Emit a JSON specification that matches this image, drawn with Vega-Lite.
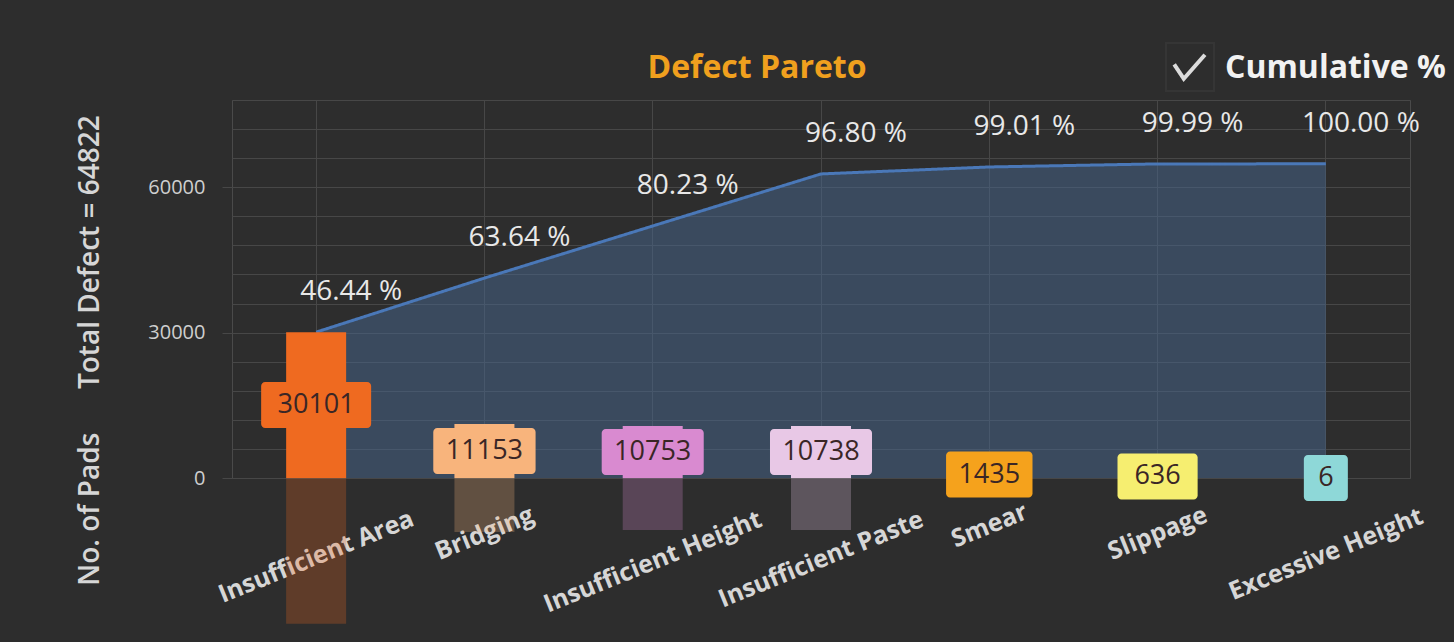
{
  "$schema": "https://vega.github.io/schema/vega-lite/v6.json",
  "width": 1178,
  "height": 378,
  "autosize": {"type": "none"},
  "padding": {"left": 232, "top": 100, "right": 44, "bottom": 164},
  "background": "#2d2d2d",
  "title": {
    "text": "Defect Pareto",
    "color": "#f0a01e",
    "font": "Open Sans",
    "fontSize": 32,
    "fontWeight": "bold",
    "anchor": "middle",
    "frame": "group",
    "dx": -64,
    "dy": 59,
    "offset": 16
  },
  "data": {
    "values": [
      {"defect": "Insufficient Area", "count": 30101, "cum": 30101, "pct": "46.44 %"},
      {"defect": "Bridging", "count": 11153, "cum": 41254, "pct": "63.64 %"},
      {"defect": "Insufficient Height", "count": 10753, "cum": 52007, "pct": "80.23 %"},
      {"defect": "Insufficient Paste", "count": 10738, "cum": 62745, "pct": "96.80 %"},
      {"defect": "Smear", "count": 1435, "cum": 64180, "pct": "99.01 %"},
      {"defect": "Slippage", "count": 636, "cum": 64816, "pct": "99.99 %"},
      {"defect": "Excessive Height", "count": 6, "cum": 64822, "pct": "100.00 %"}
    ]
  },
  "encoding": {
    "x": {
      "field": "defect",
      "type": "nominal",
      "sort": null,
      "scale": {"paddingInner": 0, "paddingOuter": 0},
      "axis": {
        "title": null,
        "labelAngle": -22,
        "labelAlign": "center",
        "labelBaseline": "middle",
        "labelPadding": {"expr": "34 + 2.6*length(datum.label)"},
        "labelFont": "Open Sans",
        "labelFontSize": 25,
        "labelFontWeight": "bold",
        "labelColor": "#d6d6d6",
        "labelLimit": 400,
        "labelOverlap": false,
        "ticks": false,
        "domain": false,
        "grid": true,
        "gridColor": "#474747",
        "bandPosition": 0.5
      }
    }
  },
  "layer": [
    {
      "mark": {"type": "area", "color": "#47678f", "opacity": 0.5},
      "encoding": {
        "y": {
          "field": "cum",
          "type": "quantitative",
          "scale": {"domain": [0, 78000], "nice": false},
          "axis": {
            "title": "No. of Pads\u00a0\u00a0\u00a0\u00a0\u00a0\u00a0Total Defect = 64822",
            "values": [0, 6000, 12000, 18000, 24000, 30000, 36000, 42000, 48000, 54000, 60000, 66000, 72000, 78000],
            "format": "d",
            "labelExpr": "datum.value % 30000 == 0 ? datum.label : ''",
            "tickSize": 10,
            "tickColor": "#474747",
            "tickOpacity": {"expr": "datum.value % 30000 == 0 ? 1 : 0"},
            "labelPadding": 17,
            "labelFont": "Open Sans",
            "labelFontSize": 20,
            "labelColor": "#cfcfcf",
            "domain": false,
            "grid": true,
            "gridColor": "#474747",
            "titleFont": "Open Sans",
            "titleFontSize": 28,
            "titleFontWeight": 600,
            "titleColor": "#d6d6d6",
            "titleAngle": -90,
            "titleX": -142,
            "titleY": 250,
            "titleAlign": "center",
            "titleBaseline": "middle"
          }
        }
      }
    },
    {
      "mark": {"type": "line", "color": "#4a78b8", "strokeWidth": 3},
      "encoding": {
        "y": {"field": "cum", "type": "quantitative", "scale": {"domain": [0, 78000], "nice": false}, "axis": null},
        "strokeDash": {
          "datum": "Cumulative %",
          "scale": {"range": [[1, 0]]},
          "legend": {
            "title": null,
            "orient": "none",
            "legendX": 933,
            "legendY": -58,
            "padding": 0,
            "symbolType": "M-0.7,-0.15L-0.3,0.45L0.58,-0.55",
            "symbolSize": 2304,
            "symbolStrokeColor": "#dcdcdc",
            "symbolStrokeWidth": 4,
            "symbolFillColor": "transparent",
            "symbolDash": [1, 0],
            "labelFont": "Open Sans",
            "labelFontSize": 32,
            "labelFontWeight": "bold",
            "labelColor": "#f2f2f2",
            "labelOffset": 8,
            "labelLimit": 400
          }
        }
      }
    },
    {
      "mark": {"type": "bar", "width": 60},
      "encoding": {
        "y": {"field": "count", "type": "quantitative", "scale": {"domain": [0, 78000], "range": [378, 756], "nice": false}, "axis": null},
        "color": {
          "field": "defect",
          "type": "nominal",
          "scale": {
            "domain": ["Insufficient Area", "Bridging", "Insufficient Height", "Insufficient Paste", "Smear", "Slippage", "Excessive Height"],
            "range": ["#ef6a20", "#f8b47c", "#d98ad0", "#e8c8e6", "#f5a21c", "#f6ee70", "#8ed8d8"]
          },
          "legend": null
        },
        "opacity": {
          "datum": "box",
          "type": "ordinal",
          "scale": {"range": [0.26, 0.26]},
          "legend": {
            "title": null,
            "orient": "none",
            "legendX": 933,
            "legendY": -58,
            "padding": 0,
            "symbolType": "M-1,-1H1V1H-1Z",
            "symbolSize": 2304,
            "symbolStrokeColor": "#4e4e4e",
            "symbolStrokeWidth": 2,
            "symbolFillColor": "transparent",
            "symbolOpacity": 1,
            "labelExpr": "''"
          }
        }
      }
    },
    {
      "mark": {"type": "bar", "width": 60},
      "encoding": {
        "y": {"field": "count", "type": "quantitative", "scale": {"domain": [0, 78000], "nice": false}, "axis": null},
        "color": {
          "field": "defect",
          "type": "nominal",
          "scale": {
            "domain": ["Insufficient Area", "Bridging", "Insufficient Height", "Insufficient Paste", "Smear", "Slippage", "Excessive Height"],
            "range": ["#ef6a20", "#f8b47c", "#d98ad0", "#e8c8e6", "#f5a21c", "#f6ee70", "#8ed8d8"]
          },
          "legend": null
        }
      }
    },
    {
      "mark": {"type": "text", "font": "Open Sans", "fontSize": 28, "color": "#e8e8e8", "dx": 35, "dy": -40, "align": "center", "baseline": "middle"},
      "encoding": {
        "y": {"field": "cum", "type": "quantitative", "scale": {"domain": [0, 78000], "nice": false}, "axis": null},
        "text": {"field": "pct", "type": "nominal"}
      }
    },
    {
      "mark": {"type": "bar", "yOffset": -23, "y2Offset": 23, "cornerRadius": 4},
      "encoding": {
        "y": {"field": "count", "type": "quantitative", "scale": {"domain": [0, 156000], "nice": false}, "axis": null},
        "y2": {"field": "count"},
        "size": {"field": "count", "type": "quantitative", "scale": {"type": "log", "domain": [6, 30101], "range": [44, 110]}, "legend": null},
        "color": {
          "field": "defect",
          "type": "nominal",
          "scale": {
            "domain": ["Insufficient Area", "Bridging", "Insufficient Height", "Insufficient Paste", "Smear", "Slippage", "Excessive Height"],
            "range": ["#ef6a20", "#f8b47c", "#d98ad0", "#e8c8e6", "#f5a21c", "#f6ee70", "#8ed8d8"]
          },
          "legend": null
        }
      }
    },
    {
      "mark": {"type": "text", "font": "Open Sans", "fontSize": 27, "color": "#3a2626", "align": "center", "baseline": "middle"},
      "encoding": {
        "y": {"field": "count", "type": "quantitative", "scale": {"domain": [0, 156000], "nice": false}, "axis": null},
        "text": {"field": "count", "type": "quantitative", "format": "d"}
      }
    }
  ],
  "resolve": {"scale": {"y": "independent"}},
  "config": {
    "view": {"stroke": "#4a4a4a", "strokeWidth": 1},
    "font": "Open Sans"
  }
}
